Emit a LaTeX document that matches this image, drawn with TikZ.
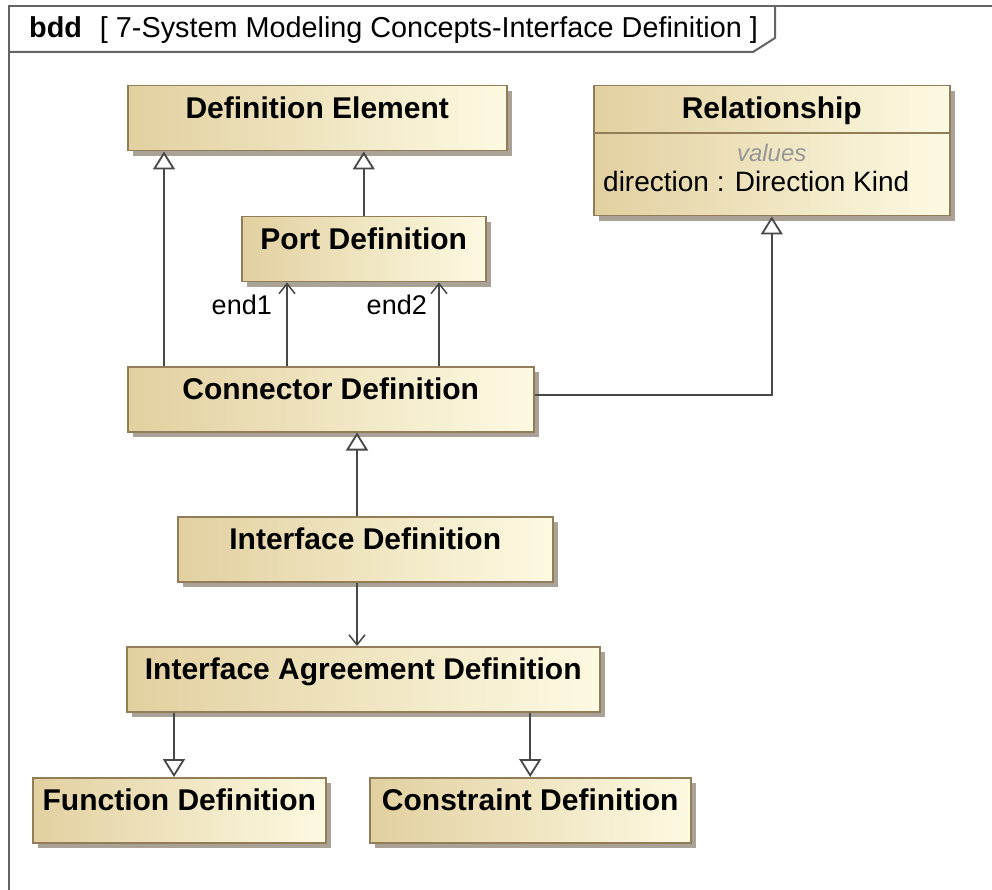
\documentclass[tikz,border=0pt]{standalone}
\usepackage{fontspec}
\setmainfont{Liberation Sans}
\usetikzlibrary{arrows.meta,shadows}

\definecolor{tanL}{RGB}{226,208,160}
\definecolor{creamR}{RGB}{253,250,226}
\definecolor{boxedge}{RGB}{145,125,88}
\definecolor{shadowc}{RGB}{170,162,150}
\definecolor{linec}{RGB}{72,72,72}
\definecolor{framec}{RGB}{100,100,100}
\definecolor{valc}{RGB}{150,150,150}

\newcommand\blocktitlefont{\fontsize{30}{36}\selectfont\bfseries}
\newcommand\attrfont{\fontsize{28}{34}\selectfont}
\newcommand\valfont{\fontsize{24}{28}\selectfont\itshape}
\newcommand\roleendfont{\fontsize{27}{32}\selectfont}
\newcommand\hdrfont{\fontsize{28.8}{34}\selectfont}

\begin{document}
\begin{tikzpicture}[x=1pt,y=-1pt,
  block/.style={draw=boxedge, line width=1.5pt, left color=tanL, right color=creamR,
    drop shadow={shadow xshift=5pt, shadow yshift=-5pt, fill=shadowc, opacity=1},
    anchor=north west, inner xsep=0pt, inner ysep=0pt,
    text height=33pt, text depth=32pt, font=\blocktitlefont},
  gen/.style={draw=linec, line width=1.8pt,
    -{Triangle[open, length=18pt, width=22pt, line width=1.8pt]}},
  assoc/.style={draw=linec, line width=1.8pt,
    -{Straight Barb[length=10pt, width=16pt, line width=1.5pt]}},
  endlabel/.style={anchor=base east, inner sep=0pt, font=\roleendfont},
  frameline/.style={draw=framec, line width=2pt}
]
\useasboundingbox (0,0) rectangle (992,890);
\fill[white] (0,0) rectangle (992,890);

% diagram frame and name tab
\draw[frameline] (992,6) -- (9,6) -- (9,890);
\draw[frameline] (9,52) -- (753,52) -- (775,38) -- (775,6);
\node[anchor=base west, inner sep=0pt, font=\hdrfont] (hdr) at (29,38)
  {\textbf{bdd}\hspace{18pt}[ 7-System Modeling Concepts-Interface Definition ]};

% blocks
\node[block, minimum width=379pt] (defel) at (127,85) {Definition Element};
\node[block, minimum width=356pt, text depth=97pt] (rel) at (593,85) {Relationship};
\node[block, minimum width=244pt] (port) at (241,216) {Port Definition};
\node[block, minimum width=406pt] (cd) at (127,366) {Connector Definition};
\node[block, minimum width=375pt] (idef) at (177,516) {Interface Definition};
\node[block, minimum width=473pt] (ia) at (126,646) {Interface Agreement Definition};
\node[block, minimum width=293pt] (fd) at (32,777) {Function Definition};
\node[block, minimum width=321pt] (cons) at (369,777) {Constraint Definition};

% Relationship compartment
\draw[draw=boxedge, line width=1.5pt] ([yshift=-48pt]rel.north west) -- ([yshift=-48pt]rel.north east);
\node[anchor=base, inner sep=0pt, font=\valfont, text=valc] (relvals) at ([yshift=-77pt]rel.north) {values};
\node[anchor=base west, inner sep=0pt, font=\attrfont] (reldir) at ([xshift=10pt,yshift=-107pt]rel.north west) {direction : Direction Kind};

% connector anchor points
\coordinate (cdl) at ([xshift=37pt]cd.north west);
\coordinate (e1) at ([xshift=46pt]port.south west);
\coordinate (e2) at ([xshift=198pt]port.south west);
\coordinate (cdr) at ([yshift=4pt]cd.east);
\coordinate (idt) at ([xshift=180pt]idef.north west);
\coordinate (idb) at ([xshift=180pt]idef.south west);
\coordinate (iaf) at ([xshift=48pt]ia.south west);

% generalizations
\draw[gen] (cdl) -- (cdl |- defel.south);
\draw[gen] (port.north) -- (port.north |- defel.south);
\draw[gen] (cdr) -| (rel.south);
\draw[gen] (idt) -- (idt |- cd.south);
\draw[gen] (iaf) -- (iaf |- fd.north);
\draw[gen] (cons.north |- ia.south) -- (cons.north);

% associations
\draw[assoc] (e1 |- cd.north) -- (e1);
\draw[assoc] (e2 |- cd.north) -- (e2);
\draw[assoc] (idb) -- (idb |- ia.north);

% association end names
\node[endlabel] (lab1) at ([xshift=-15pt,yshift=-32pt]e1) {end1};
\node[endlabel] (lab2) at ([xshift=-12pt,yshift=-32pt]e2) {end2};
\end{tikzpicture}
\end{document}
